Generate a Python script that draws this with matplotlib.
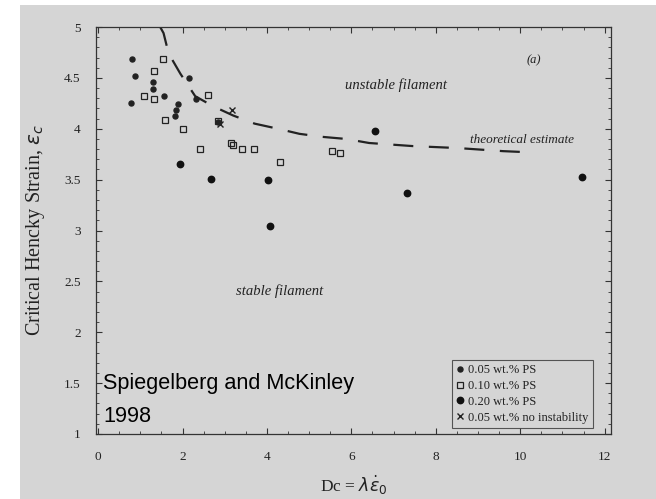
import matplotlib
matplotlib.use("Agg")
import matplotlib.pyplot as plt
from matplotlib.patches import Rectangle
from matplotlib.ticker import MultipleLocator

# --- data ---
ps005_x = [0.81, 0.87, 0.79, 1.29, 1.29, 1.55, 1.81, 1.85, 1.89, 2.16, 2.32, 2.85]
ps005_y = [4.69, 4.52, 4.25, 4.46, 4.39, 4.32, 4.13, 4.18, 4.24, 4.50, 4.29, 4.07]

ps010_x = [1.53, 1.33, 1.08, 1.33, 1.59, 2.02, 2.61, 2.42, 2.85, 3.15, 3.20, 3.41, 3.69, 4.30, 5.54, 5.73]
ps010_y = [4.69, 4.57, 4.32, 4.29, 4.09, 4.00, 4.33, 3.80, 4.08, 3.86, 3.84, 3.80, 3.80, 3.67, 3.78, 3.76]

ps020_x = [1.94, 2.67, 4.03, 4.07, 6.57, 7.32, 11.46]
ps020_y = [3.65, 3.51, 3.50, 3.04, 3.98, 3.37, 3.53]

noinst_x = [3.18, 2.89]
noinst_y = [4.18, 4.05]

theory_x = [1.47, 1.55, 1.67, 1.95, 2.30, 2.73, 3.20, 3.71, 4.26, 4.77, 5.32, 5.87, 6.42, 7.44, 8.53, 9.59, 10.14]
theory_y = [5.00, 4.94, 4.74, 4.54, 4.32, 4.22, 4.13, 4.05, 4.00, 3.95, 3.92, 3.90, 3.86, 3.83, 3.81, 3.78, 3.77]

x_ticks = [0, 2, 4, 6, 8, 10, 12]
y_ticks = [1, 1.5, 2, 2.5, 3, 3.5, 4, 4.5, 5]
y_ticklabels = ["1", "1.5", "2", "2.5", "3", "3.5", "4", "4.5", "5"]
legend_labels = ["0.05 wt.% PS", "0.10 wt.% PS", "0.20 wt.% PS", "0.05 wt.% no instability"]

BG = "#d5d5d5"
INK = "#222222"
SERIF = ["Liberation Serif", "DejaVu Serif"]

W, H = 656, 499
fig = plt.figure(figsize=(W / 100, H / 100), dpi=100, facecolor=BG)
# white margins on the left and top of the scanned panel
fig.patches.append(Rectangle((0, 0), 20 / W, 1, transform=fig.transFigure,
                             facecolor="white", edgecolor="none", zorder=-10))
fig.patches.append(Rectangle((0, (H - 5) / H), 1, 5 / H, transform=fig.transFigure,
                             facecolor="white", edgecolor="none", zorder=-10))

ax = fig.add_axes([96 / W, 1 - 434 / H, (611 - 96) / W, (434 - 27) / H])
ax.set_facecolor(BG)
ax.set_xlim(-0.05, 12.15)
ax.set_ylim(1, 5)

ax.plot(theory_x, theory_y, color=INK, lw=1.6, dashes=(9, 7))
h1, = ax.plot(ps005_x, ps005_y, ls="none", marker="o", ms=3.6, color=INK, mec=INK)
h2, = ax.plot(ps010_x, ps010_y, ls="none", marker="s", ms=5, mfc="none", mec=INK, mew=0.9)
h3, = ax.plot(ps020_x, ps020_y, ls="none", marker="o", ms=4.6, color="#111111")
h4, = ax.plot(noinst_x, noinst_y, ls="none", marker="x", ms=5, mec=INK, mew=1.0)

for s in ax.spines.values():
    s.set_color("#333333")
    s.set_linewidth(0.9)

ax.set_xticks(x_ticks)
ax.set_yticks(y_ticks)
ax.set_yticklabels(y_ticklabels)
ax.xaxis.set_minor_locator(MultipleLocator(0.5))
ax.yaxis.set_minor_locator(MultipleLocator(0.1))
ax.tick_params(which="both", direction="in", top=True, right=True, colors="#333333")
ax.tick_params(which="major", length=4, width=0.8, labelsize=9.5, labelcolor=INK)
ax.tick_params(which="minor", length=2, width=0.6)
ax.tick_params(axis="x", which="major", pad=12)
ax.tick_params(axis="y", which="major", pad=11)
for lab in ax.get_xticklabels() + ax.get_yticklabels():
    lab.set_fontfamily(SERIF)

ax.set_xlabel(r"Dc = $\lambda\dot{\varepsilon}_0$", fontsize=12.5, family=SERIF, color=INK, labelpad=8)
ax.set_ylabel(r"Critical Hencky Strain, $\varepsilon_c$", fontsize=14.5, family=SERIF, color=INK, labelpad=12)

ax.text(10.33, 4.67, "(a)", fontsize=9, style="italic", family=SERIF, color=INK, ha="center", va="center")
ax.text(7.05, 4.43, "unstable filament", fontsize=10.5, style="italic", family=SERIF, color=INK, ha="center", va="center")
ax.text(10.03, 3.89, "theoretical estimate", fontsize=9.5, style="italic", family=SERIF, color=INK, ha="center", va="center")
ax.text(4.3, 2.40, "stable filament", fontsize=10.5, style="italic", family=SERIF, color=INK, ha="center", va="center")

leg = ax.legend([h1, h2, h3, h4], legend_labels, loc="lower right", bbox_to_anchor=(0.965, 0.015),
                prop={"family": SERIF, "size": 9}, frameon=True, fancybox=False,
                handlelength=0.6, handletextpad=0.35, borderpad=0.35, labelspacing=0.3,
                borderaxespad=0)
leg.get_frame().set_facecolor(BG)
leg.get_frame().set_edgecolor("#333333")
leg.get_frame().set_linewidth(0.8)
for t in leg.get_texts():
    t.set_color(INK)

sans = ["Liberation Sans", "DejaVu Sans"]
fig.text(103 / W, 1 - 389 / H, "Spiegelberg and McKinley", fontsize=15.6,
         family=sans, color="black", ha="left", va="baseline")
fig.text(103 / W, 1 - 422 / H, "1998", fontsize=15.6,
         family=sans, color="black", ha="left", va="baseline")

fig.savefig("out.png", dpi=100, facecolor=BG)
